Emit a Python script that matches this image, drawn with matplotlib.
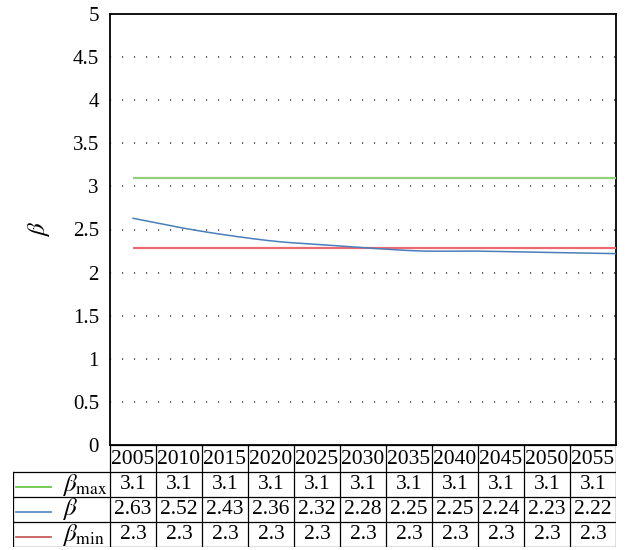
import numpy as np
import matplotlib
matplotlib.use("Agg")
import matplotlib.pyplot as plt

plt.rcParams['font.family'] = ['Liberation Serif', 'DejaVu Serif']
plt.rcParams['mathtext.fontset'] = 'stix'
plt.rcParams['lines.scale_dashes'] = False

years = [2005, 2010, 2015, 2020, 2025, 2030, 2035, 2040, 2045, 2050, 2055]
beta_max = [3.1, 3.1, 3.1, 3.1, 3.1, 3.1, 3.1, 3.1, 3.1, 3.1, 3.1]
beta = [2.63, 2.52, 2.43, 2.36, 2.32, 2.28, 2.25, 2.25, 2.24, 2.23, 2.22]
beta_min = [2.28, 2.28, 2.28, 2.28, 2.28, 2.28, 2.28, 2.28, 2.28, 2.28, 2.28]
yticks = [0, 0.5, 1, 1.5, 2, 2.5, 3, 3.5, 4, 4.5, 5]

W, H = 627, 550
fig = plt.figure(figsize=(W / 100, H / 100), dpi=100)

L, R, T, B = 110, 616, 14, 445
ax = fig.add_axes([L / W, 1 - B / H, (R - L) / W, (B - T) / H])

n = len(years)
x = np.arange(n)
first_px = 133
unit = (R - first_px) / (n - 1)
ax.set_xlim(-(first_px - L) / unit, n - 1)
ax.set_ylim(0, 5)


def catmull(xs, ys, sub=20):
    xs = np.asarray(xs, float); ys = np.asarray(ys, float)
    px = np.concatenate([[2 * xs[0] - xs[1]], xs, [2 * xs[-1] - xs[-2]]])
    py = np.concatenate([[2 * ys[0] - ys[1]], ys, [2 * ys[-1] - ys[-2]]])
    ox, oy = [], []
    t = np.linspace(0, 1, sub, endpoint=False)
    for i in range(1, len(px) - 2):
        for arr, out in ((px, ox), (py, oy)):
            p0, p1, p2, p3 = arr[i - 1], arr[i], arr[i + 1], arr[i + 2]
            out.extend(0.5 * ((2 * p1) + (-p0 + p2) * t +
                              (2 * p0 - 5 * p1 + 4 * p2 - p3) * t ** 2 +
                              (-p0 + 3 * p1 - 3 * p2 + p3) * t ** 3))
    ox.append(xs[-1]); oy.append(ys[-1])
    return np.array(ox), np.array(oy)


for yv in yticks[1:-1]:
    ax.axhline(yv, color='#333333', lw=1.1, dashes=(0.8, 7.84), zorder=1)

c_max, c_b, c_min = '#93d07a', '#4a7ebb', '#ee6a6e'
ax.plot(x, beta_max, color=c_max, lw=1.6, zorder=3, solid_capstyle='butt')
ax.plot(x, beta_min, color=c_min, lw=1.6, zorder=3, solid_capstyle='butt')
sx, sy = catmull(x, beta)
ax.plot(sx, sy, color=c_b, lw=1.1, zorder=4)

ax.set_xticks([])
ax.set_yticks(yticks)
ax.set_yticklabels([f'{v:g}' for v in yticks], fontsize=15)
ax.tick_params(axis='y', length=0, pad=8)
for s in ax.spines.values():
    s.set_linewidth(1.3)
    s.set_color('black')
ax.set_ylabel(r'$\beta$', fontsize=18, rotation=90)
ax.yaxis.set_label_coords(-0.115, 0.5)

# data table
TL, TT, TB = 13, 445, 547
tax = fig.add_axes([TL / W, 1 - TB / H, (R - TL) / W, (TB - TT) / H])
tax.set_xlim(TL, R)
tax.set_ylim(TB, TT)
tax.axis('off')
rows_y = [445, 472, 497, 522, 547]
cw = (R - L) / n
lk = dict(color='black', lw=0.9)
tax.plot([L, R], [rows_y[0], rows_y[0]], **lk)
for r in rows_y[1:]:
    tax.plot([TL, R], [r, r], **lk)
tax.plot([TL, TL], [rows_y[1], rows_y[-1]], **lk)
for i in range(n + 1):
    tax.plot([L + i * cw, L + i * cw], [rows_y[0], rows_y[-1]], **lk)

for i, yr in enumerate(years):
    tax.text(L + (i + 0.5) * cw, (rows_y[0] + rows_y[1]) / 2 + 1.5, str(yr),
             ha='center', va='center', fontsize=15.5)

series = [
    (r'$\beta_{\mathrm{max}}$', beta_max, '{:.1f}', '#5cc43c'),
    (r'$\beta$', beta, '{:.2f}', '#4f81bd'),
    (r'$\beta_{\mathrm{min}}$', beta_min, '{:.1f}', '#c0504d'),
]
for k, (lab, vals, fmt, col) in enumerate(series):
    yc = (rows_y[k + 1] + rows_y[k + 2]) / 2
    tax.plot([16, 51], [yc + 2, yc + 2], color=col, lw=1.2)
    tax.text(62, yc, lab, ha='left', va='center', fontsize=18)
    for i, v in enumerate(vals):
        tax.text(L + (i + 0.5) * cw, yc, fmt.format(v),
                 ha='center', va='center', fontsize=15.5)

fig.savefig('out.png', dpi=100)
